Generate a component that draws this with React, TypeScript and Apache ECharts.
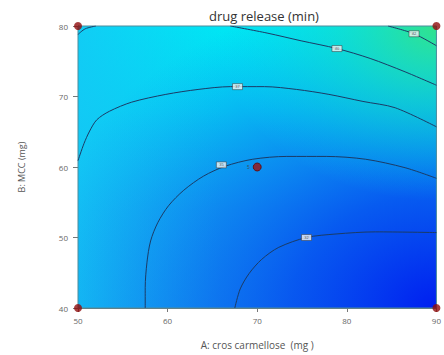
import React, { useEffect, useRef } from "react";
import * as echarts from "echarts";

// Axis ranges and ticks
const xTicks = [50, 60, 70, 80, 90];
const yTicks = [40, 50, 60, 70, 80];

// Design points (A: cros carmellose, B: MCC)
const designPoints = [
  [50, 40],
  [50, 80],
  [90, 40],
  [90, 80],
];
const centerPoint = [[70, 60]];
const centerReplicates = ["5"];

// Contour lines [A, B]
const contourCorner = [[50, 78.8], [50.8, 79.6], [52, 80]];
const contourTopRight = [[84.6, 80], [87.5, 78.9], [90, 77.2]];
const contourUpper = [
  [67.0, 80], [71.1, 79.0], [74.9, 77.9], [78.9, 76.8], [82.6, 75.4], [86.5, 73.5], [90, 71.6],
];
const contourMid = [
  [50, 60.9], [50.66, 63.3], [51.3, 65.1], [52.1, 66.7], [53.5, 67.9], [56.0, 69.2],
  [59.8, 70.3], [63.4, 71.0], [67.0, 71.4], [70.8, 71.4], [74.4, 71.0], [78.0, 70.3],
  [81.8, 69.3], [85.4, 68.4], [90, 65.7],
];
const contourLow = [
  [57.5, 40], [57.5, 42.9], [57.7, 46.5], [58.1, 49.5], [58.9, 52.1], [60.1, 54.5],
  [61.8, 56.7], [64.0, 58.7], [66.4, 60.1], [69.5, 61.1], [73.3, 61.5], [77.7, 61.5],
  [82.1, 61.1], [86.5, 59.9], [90, 58.4],
];
const contourLowest = [
  [67.5, 40], [68.1, 42.7], [69.1, 44.9], [70.5, 46.9], [72.4, 48.6], [75.5, 50.0],
  [78.8, 50.5], [83.2, 50.8], [90, 50.7],
];

// Contour labels [A, B, text]
const contourLabels = [
  [87.5, 78.9, "42"],
  [78.9, 76.8, "40"],
  [67.8, 71.4, "37"],
  [66.0, 60.3, "35"],
  [75.5, 50.0, "32"],
];

export default function App() {
  const ref = useRef<HTMLDivElement>(null);
  useEffect(() => {
    if (!ref.current) return;
    const chart = echarts.init(ref.current, null, { renderer: "svg" });
    const lineStyle = { color: "#1b3b66", width: 1 };
    const contour = (data: number[][]) => ({
      type: "line",
      data,
      smooth: 0.3,
      showSymbol: false,
      symbol: "none",
      silent: true,
      z: 3,
      lineStyle,
    });
    chart.setOption({
      animation: false,
      title: {
        text: "drug release (min)",
        left: 259,
        textAlign: "center",
        top: 4,
        textStyle: { fontFamily: "Open Sans", fontSize: 13, fontWeight: "normal", color: "#333" },
      },
      grid: { left: 78, width: 364, top: 26, height: 285 },
      xAxis: {
        type: "value",
        min: 50,
        max: 90,
        interval: 10,
        name: "A: cros carmellose  (mg )",
        nameLocation: "middle",
        nameGap: 32,
        nameTextStyle: { fontFamily: "Open Sans", fontSize: 10, color: "#555" },
        axisLine: { show: true, lineStyle: { color: "#777" } },
        axisTick: { show: true, length: 4, lineStyle: { color: "#777" } },
        axisLabel: {
          fontFamily: "Open Sans", fontSize: 8, color: "#666", margin: 8,
          formatter: (v: number) => (xTicks.includes(v) ? String(v) : ""),
        },
        splitLine: { show: false },
      },
      yAxis: {
        type: "value",
        min: 40,
        max: 80,
        interval: 10,
        name: "B: MCC (mg)",
        nameLocation: "middle",
        nameGap: 52,
        nameTextStyle: { fontFamily: "Open Sans", fontSize: 9, color: "#555" },
        axisLine: { show: true, lineStyle: { color: "#777" } },
        axisTick: { show: true, length: 5, lineStyle: { color: "#777" } },
        axisLabel: {
          fontFamily: "Open Sans", fontSize: 8, color: "#666", margin: 10,
          formatter: (v: number) => (yTicks.includes(v) ? String(v) : ""),
        },
        splitLine: { show: false },
      },
      series: [
        {
          type: "custom",
          silent: true,
          z: 1,
          data: [[50, 40, 90, 80]],
          renderItem: (params: any, api: any) => {
            const p0 = api.coord([api.value(0), api.value(3)]);
            const p1 = api.coord([api.value(2), api.value(1)]);
            const shape = { x: p0[0], y: p0[1], width: p1[0] - p0[0], height: p1[1] - p0[1] };
            return {
              type: "group",
              children: [
                {
                  type: "rect",
                  shape,
                  style: {
                    fill: new echarts.graphic.LinearGradient(0, 0, 0, 1, [
                      { offset: 0, color: "#00e6f4" },
                      { offset: 0.3, color: "#04d4f3" },
                      { offset: 0.65, color: "#10aef0" },
                      { offset: 1, color: "#149cee" },
                    ]),
                  },
                },
                {
                  type: "rect",
                  shape,
                  style: {
                    fill: new echarts.graphic.LinearGradient(0, 0, 1, 0, [
                      { offset: 0, color: "rgba(20,200,245,0.85)" },
                      { offset: 0.4, color: "rgba(20,200,245,0)" },
                    ]),
                  },
                },
                {
                  type: "rect",
                  shape,
                  style: {
                    fill: new echarts.graphic.RadialGradient(1, 1, 1.15, [
                      { offset: 0, color: "rgba(0,30,240,1)" },
                      { offset: 0.35, color: "rgba(5,70,240,0.8)" },
                      { offset: 1, color: "rgba(20,130,240,0)" },
                    ]),
                  },
                },
                {
                  type: "rect",
                  shape,
                  style: {
                    fill: new echarts.graphic.RadialGradient(1, 0, 0.62, [
                      { offset: 0, color: "rgba(50,226,140,1)" },
                      { offset: 0.45, color: "rgba(20,230,195,0.55)" },
                      { offset: 1, color: "rgba(0,230,240,0)" },
                    ]),
                  },
                },
                {
                  type: "rect",
                  shape,
                  style: { fill: "none", stroke: "#4d8c9c", lineWidth: 1 },
                },
              ],
            };
          },
        },
        contour(contourCorner),
        contour(contourTopRight),
        contour(contourUpper),
        contour(contourMid),
        contour(contourLow),
        contour(contourLowest),
        {
          type: "scatter",
          data: contourLabels,
          symbol: "rect",
          symbolSize: [10, 6],
          silent: true,
          z: 5,
          itemStyle: { color: "#f4f4f4", borderColor: "#333", borderWidth: 0.6 },
          label: {
            show: true,
            position: "inside",
            formatter: (p: any) => p.value[2],
            fontSize: 4,
            color: "#333",
          },
        },
        {
          type: "scatter",
          data: designPoints,
          symbol: "circle",
          symbolSize: 8,
          clip: false,
          silent: true,
          z: 6,
          itemStyle: { color: "#8e0d0d" },
        },
        {
          type: "scatter",
          data: centerPoint,
          symbol: "circle",
          symbolSize: 8,
          clip: false,
          silent: true,
          z: 6,
          itemStyle: { color: "#a01010", borderColor: "#5a0808", borderWidth: 1 },
          label: {
            show: true,
            position: "left",
            distance: 3,
            formatter: () => centerReplicates[0],
            fontSize: 5,
            color: "#444",
          },
        },
      ],
    });
    return () => chart.dispose();
  }, []);
  return (
    <div
      ref={ref}
      style={{ position: "fixed", left: 0, top: 0, width: 444, height: 355, background: "#fff" }}
    />
  );
}
